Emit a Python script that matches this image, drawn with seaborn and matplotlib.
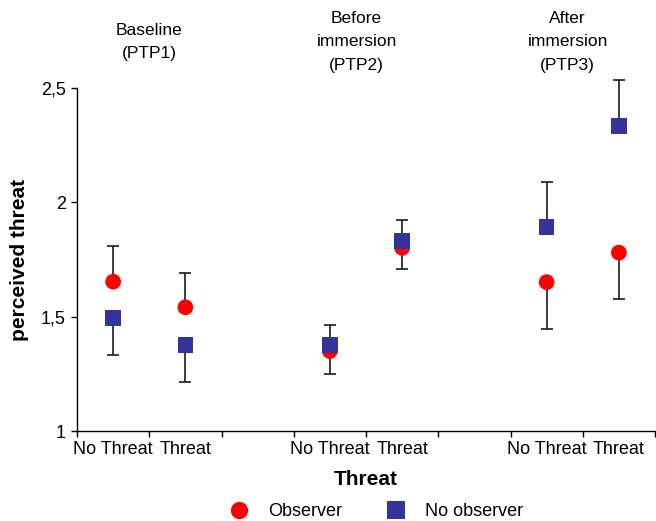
import numpy as np
import pandas as pd
import matplotlib
matplotlib.use("Agg")
import matplotlib.pyplot as plt
import matplotlib.transforms as mtransforms
import seaborn as sns

# ------------------------------------------
# data
# ------------------------------------------
phases = ["Baseline\n(PTP1)", "Before\nimmersion\n(PTP2)", "After\nimmersion\n(PTP3)"]
threat_levels = ["No Threat", "Threat"]
groups = ["Observer", "No observer"]

observer_mean = [1.653, 1.541, 1.350, 1.801, 1.651, 1.780]
observer_err_lo = [0.0, 0.0, 0.099, 0.093, 0.205, 0.202]
observer_err_hi = [0.156, 0.151, 0.0, 0.0, 0.0, 0.0]

noobs_mean = [1.493, 1.376, 1.376, 1.831, 1.893, 2.334]
noobs_err_lo = [0.159, 0.162, 0.0, 0.0, 0.0, 0.0]
noobs_err_hi = [0.0, 0.0, 0.087, 0.092, 0.197, 0.201]

y_ticks = [1, 1.5, 2, 2.5]
y_ticklabels = ["1", "1,5", "2", "2,5"]

colors = {"Observer": "#FF0000", "No observer": "#333399"}
markers = {"Observer": "o", "No observer": "s"}

# long table, one row per point; each phase takes 3 slots (2 + gap)
rows = []
for gname, means, lo, hi in [("Observer", observer_mean, observer_err_lo, observer_err_hi),
                             ("No observer", noobs_mean, noobs_err_lo, noobs_err_hi)]:
    for i, m in enumerate(means):
        p, t = divmod(i, 2)
        rows.append({"pos": 3 * p + t, "phase": phases[p], "threat": threat_levels[t],
                     "group": gname, "value": m, "lo": lo[i], "hi": hi[i]})
df = pd.DataFrame(rows)

# ------------------------------------------
# figure
# ------------------------------------------
sns.set_theme(style="white")
plt.rcParams['font.family'] = ['Liberation Sans', 'DejaVu Sans']
plt.rcParams.update({"text.color": "black", "axes.labelcolor": "black",
                     "xtick.color": "black", "ytick.color": "black"})

fig = plt.figure(figsize=(6.56, 5.21), dpi=100)
ax = fig.add_axes([77 / 656, 1 - 431 / 521, 578 / 656, 343 / 521])

eb = ax.errorbar(df["pos"], df["value"], yerr=[df["lo"], df["hi"]], fmt="none",
                 ecolor="#1a1a1a", elinewidth=1.2, capsize=4, capthick=1.2, zorder=2)
for art in eb.lines[1] + eb.lines[2]:
    art.set_clip_on(False)
sns.scatterplot(data=df, x="pos", y="value", hue="group", style="group",
                palette=colors, markers=markers, hue_order=groups, style_order=groups,
                s=128, linewidth=0, ax=ax, zorder=3)

ax.set_xlim(-0.5, 7.5)
ax.set_ylim(1, 2.5)
ax.set_yticks(y_ticks)
ax.set_yticklabels(y_ticklabels, fontsize=13)

# tick marks between categories, labels at category centres
ax.set_xticks(np.arange(-0.5, 8, 1))
ax.set_xticklabels([])
ax.set_xticks(df["pos"].unique(), minor=True)
ax.set_xticklabels([threat_levels[int(p) % 3] for p in df["pos"].unique()], minor=True, fontsize=13)
ax.tick_params(axis="x", which="minor", bottom=True, length=0, pad=7)
ax.tick_params(axis="x", which="major", bottom=True, length=4, width=1, direction="out")
ax.tick_params(axis="y", left=True, length=4, width=1, direction="out", pad=4)

for s in ["top", "right"]:
    ax.spines[s].set_visible(False)
for s in ["left", "bottom"]:
    ax.spines[s].set_color("black")
    ax.spines[s].set_linewidth(1.0)

ax.set_xlabel("Threat", fontsize=15, fontweight="bold")
ax.xaxis.set_label_coords(0.5, -0.115)
ax.set_ylabel("perceived threat", fontsize=15, fontweight="bold")
ax.yaxis.set_label_coords(-0.083, 0.5)

# phase titles above the plot
trans = mtransforms.blended_transform_factory(ax.transData, fig.transFigure)
for xp, name in zip([0.5, 3.37, 6.29], phases):
    ax.text(xp, 1 - 42 / 521, name, transform=trans, ha="center", va="center",
            fontsize=12.5, linespacing=1.7, multialignment="center")

sns.move_legend(ax, "center", bbox_to_anchor=(376 / 656, 1 - 512 / 521), bbox_transform=fig.transFigure,
                ncol=2, frameon=False, title=None, fontsize=13, handlelength=1.2,
                handletextpad=1.0, columnspacing=2.4, markerscale=1.1)

fig.savefig("out.png", dpi=100)
